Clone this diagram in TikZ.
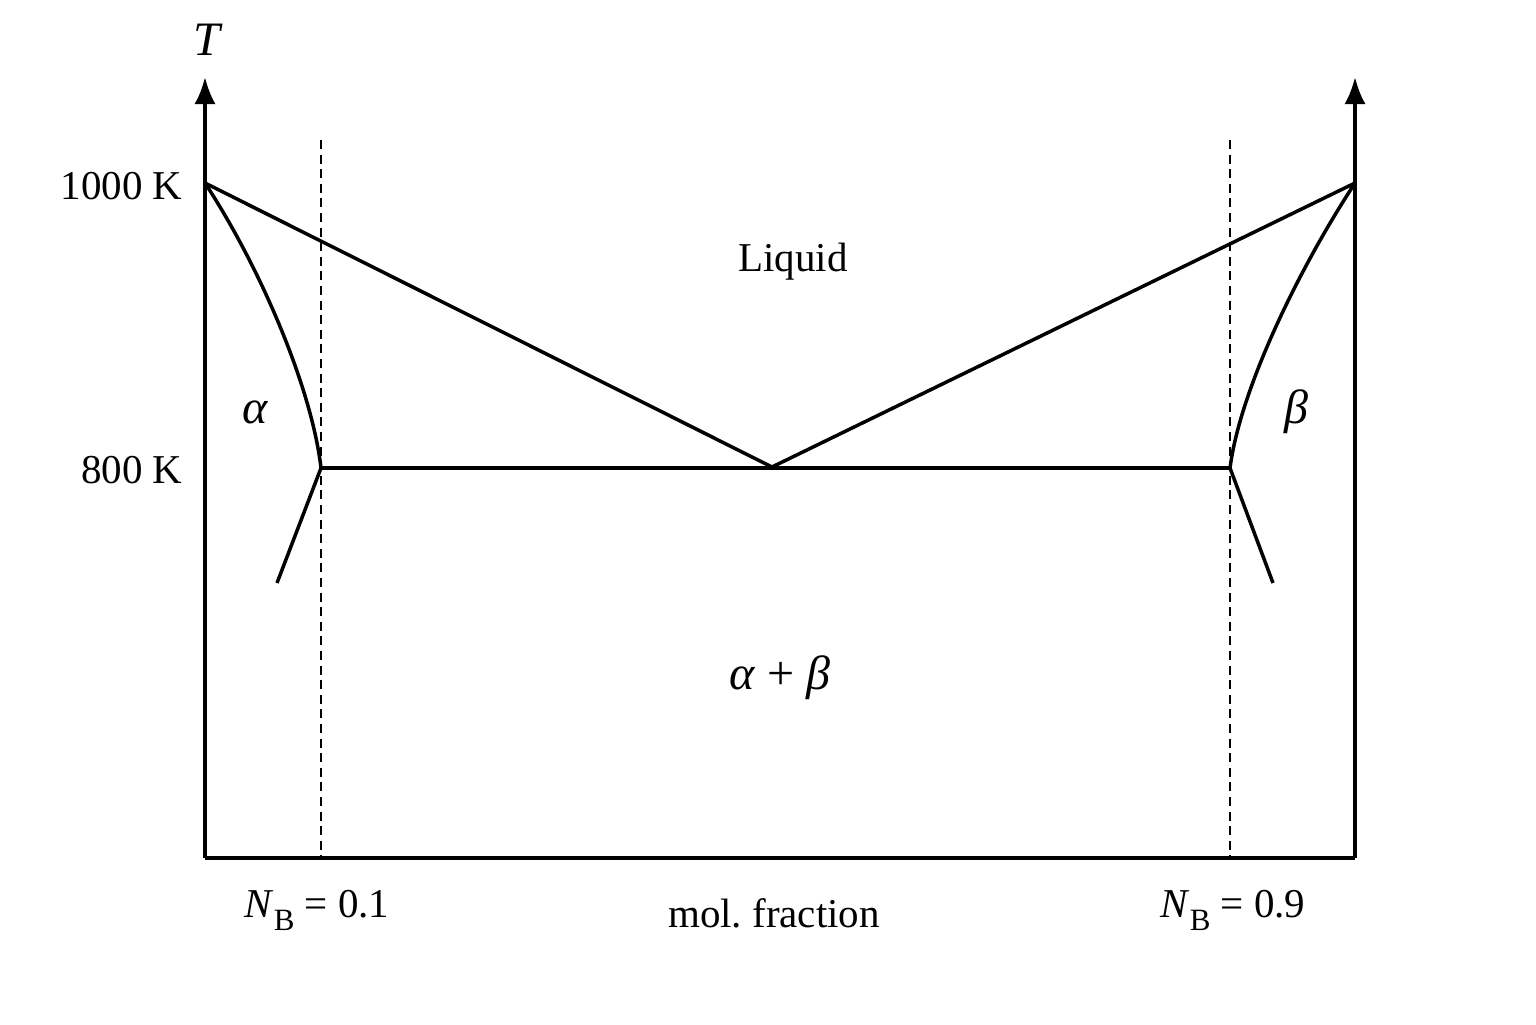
\documentclass[tikz,border=0pt]{standalone}
\usepackage{fontspec}
\setmainfont{Liberation Serif}
\usetikzlibrary{arrows.meta}
\newcommand{\subB}{\raisebox{-0.32em}{\fontsize{15.5}{18}\selectfont B}}
\begin{document}
\begin{tikzpicture}[x=0.5pt,y=-0.5pt,
  curve/.style={line width=1.75pt},
  axis/.style={line width=1.75pt,-{Latex[length=13.5pt,width=10.5pt]}},
  guide/.style={line width=1.35pt,dash pattern=on 4.5pt off 2.8pt},
  lab/.style={font=\fontsize{20.5}{24}\selectfont,inner sep=0pt},
  glab/.style={font=\fontsize{24}{28}\selectfont\itshape,inner sep=0pt}]
\useasboundingbox (0,0) rectangle (1536,1024);
% points
\coordinate (O) at (205,858);
\coordinate (E) at (1355,858);
\coordinate (Ltop) at (205,77);
\coordinate (Rtop) at (1355,77);
\coordinate (A) at (205,183);
\coordinate (B) at (1355,183);
\coordinate (eu) at (772,467);
\coordinate (sa) at (321,468);
\coordinate (sb) at (1230,468);
\coordinate (la) at (277,583);
\coordinate (lb) at (1273,583);
\coordinate (da1) at (321,140);
\coordinate (da2) at (321,858);
\coordinate (db1) at (1230,140);
\coordinate (db2) at (1230,858);
% axes
\draw[axis] (O) -- (Ltop);
\draw[axis] (E) -- (Rtop);
\draw[curve] (O) -- (E);
% dashed guides
\draw[guide] (da1) -- (da2);
\draw[guide] (db1) -- (db2);
% liquidus
\draw[curve,line join=round] (A) -- (eu) -- (B);
% eutectic line
\draw[curve] (sa) -- (sb);
% solidus curves
\draw[curve] (A) .. controls (262,270) and (312,390) .. (sa);
\draw[curve] (B) .. controls (1298,270) and (1240,390) .. (sb);
% solvus lines
\draw[curve] (sa) -- (la);
\draw[curve] (sb) -- (lb);
% labels
\node[glab] (T) at (207,40) {T};
\node[lab,anchor=east] (k1000) at (183,186) {1000 K};
\node[lab,anchor=east] (k800) at (183,470) {800 K};
\node[lab] (liq) at (793,262) {Liquid};
\node[glab] (alpha) at (255,412) {α};
\node[glab] (beta) at (1296,412) {β};
\node[glab] (ab) at (780,678) {α \upshape+ \itshape β};
\node[lab] (n1) at (317,910) {\textit{N}\subB{} = 0.1};
\node[lab] (mol) at (774,913) {mol.\ fraction};
\node[lab] (n9) at (1233,910) {\textit{N}\subB{} = 0.9};
\end{tikzpicture}
\end{document}
